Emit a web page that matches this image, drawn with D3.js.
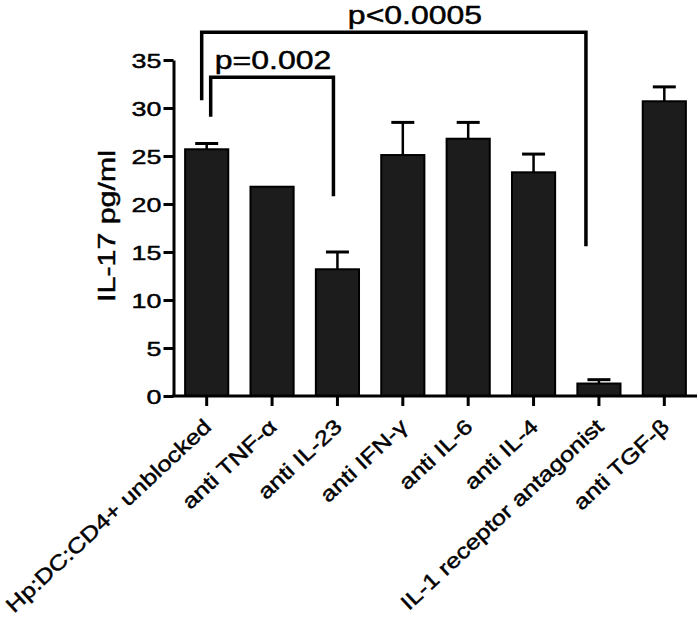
<!DOCTYPE html>
<html>
<head>
<meta charset="utf-8">
<script src="https://cdn.jsdelivr.net/npm/d3@7/dist/d3.min.js"></script>
<style>
  body { margin: 0; background: #fff; }
  svg { display: block; }
  text { font-family: "Liberation Sans", Arial, sans-serif; fill: #000; stroke: #000; stroke-width: 0.45px; }
</style>
</head>
<body>
<div id="chart"></div>
<script>

var groups = ["Hp:DC:CD4+ unblocked", "anti TNF-\u03b1", "anti IL-23", "anti IFN-\u03b3",
              "anti IL-6", "anti IL-4", "IL-1 receptor antagonist", "anti TGF-\u03b2"]
var means = [25.7, 21.8, 13.2, 25.1, 26.8, 23.3, 1.3, 30.7]
var errs = [0.6, 0, 1.8, 3.4, 1.7, 1.9, 0.4, 1.5]
var yTicks = [0, 5, 10, 15, 20, 25, 30, 35]
var yLabel = "IL-17 pg/ml"

// significance brackets: bar index pair, top of bracket, leg ends (data units)
var brackets = [
    { from: 0, to: 6, top: 37.9, leftEnd: 30.8, rightEnd: 15.6, label: "p<0.0005" },
    { from: 0, to: 2, top: 33.2, leftEnd: 29.1, rightEnd: 20.8, label: "p=0.002" }
]

var W = 700, H = 633
var svg = d3.select("#chart").append("svg")
    .attr("width", W)
    .attr("height", H)

var x = d3.scaleBand()
    .domain(groups)
    .range([174, 697])
    .paddingInner(0.34)
    .paddingOuter(0.17)

var y = d3.scaleLinear()
    .domain([0, 35])
    .range([396, 60])

// bars
svg.selectAll(".bar")
    .data(means)
    .enter()
    .append("rect")
    .attr("class", "bar")
    .attr("x", function(d, i) { return x(groups[i]) })
    .attr("width", x.bandwidth())
    .attr("y", function(d) { return y(d) })
    .attr("height", function(d) { return y(0) - y(d) })
    .attr("fill", "#1c1c1c")
    .attr("stroke", "#000")
    .attr("stroke-width", 2)

// error bars (upper only)
var eb = svg.selectAll(".err")
    .data(means.map(function(d, i) { return { m: d, e: errs[i], g: groups[i] } })
        .filter(function(d) { return d.e > 0 }))
    .enter()
    .append("g")
    .attr("class", "err")
eb.append("line")
    .attr("x1", function(d) { return x(d.g) + x.bandwidth() / 2 })
    .attr("x2", function(d) { return x(d.g) + x.bandwidth() / 2 })
    .attr("y1", function(d) { return y(d.m) })
    .attr("y2", function(d) { return y(d.m + d.e) })
    .attr("stroke", "#000")
    .attr("stroke-width", 2.5)
eb.append("line")
    .attr("x1", function(d) { return x(d.g) + x.bandwidth() / 2 - 11.5 })
    .attr("x2", function(d) { return x(d.g) + x.bandwidth() / 2 + 11.5 })
    .attr("y1", function(d) { return y(d.m + d.e) })
    .attr("y2", function(d) { return y(d.m + d.e) })
    .attr("stroke", "#000")
    .attr("stroke-width", 3)

// y axis
var yAxis = svg.append("g")
    .attr("transform", "translate(173.5,0)")
    .call(d3.axisLeft(y).tickValues(yTicks).tickSize(10).tickSizeOuter(0))
yAxis.select(".domain").attr("stroke-width", 3)
yAxis.selectAll(".tick line").attr("stroke-width", 3)
yAxis.selectAll(".tick text")
    .attr("x", 0)
    .attr("dy", "0.36em")
    .attr("transform", "translate(-12,0) scale(1.28,1)")
    .style("font-size", "21px")
    .style("font-family", "Liberation Sans, Arial, sans-serif")

// x axis
var xAxis = svg.append("g")
    .attr("transform", "translate(0,396)")
    .call(d3.axisBottom(x).tickSize(10).tickSizeOuter(0))
xAxis.select(".domain").attr("d", "M172,0H697").attr("stroke-width", 3)
xAxis.selectAll(".tick line").attr("stroke-width", 3)
xAxis.selectAll(".tick text")
    .attr("x", 0)
    .attr("y", 0)
    .attr("dy", "0.35em")
    .attr("text-anchor", "end")
    .attr("transform", "translate(1,27) rotate(-43) scale(1.21,1)")
    .style("font-size", "21px")
    .style("font-family", "Liberation Sans, Arial, sans-serif")

// y label
svg.append("text")
    .attr("transform", "translate(115,226) rotate(-90) scale(1.32,1)")
    .attr("text-anchor", "middle")
    .style("font-size", "23px")
    .text(yLabel)

// brackets
var legOff = [[-5, -13], [4, -4]]
brackets.forEach(function(b, i) {
    var x1 = x(groups[b.from]) + x.bandwidth() / 2 + legOff[i][0]
    var x2 = x(groups[b.to]) + x.bandwidth() / 2 + legOff[i][1]
    svg.append("path")
        .attr("d", "M" + x1 + "," + y(b.leftEnd) + "V" + y(b.top) + "H" + x2 + "V" + y(b.rightEnd))
        .attr("fill", "none")
        .attr("stroke", "#000")
        .attr("stroke-width", 3.5)
    svg.append("text")
        .attr("transform", "translate(" + (i == 0 ? 415 : 273) + "," + (y(b.top) - 8.5) + ") scale(1.28,1)")
        .attr("text-anchor", "middle")
        .style("font-size", "25px")
        .text(b.label)
})
</script>
</body>
</html>
